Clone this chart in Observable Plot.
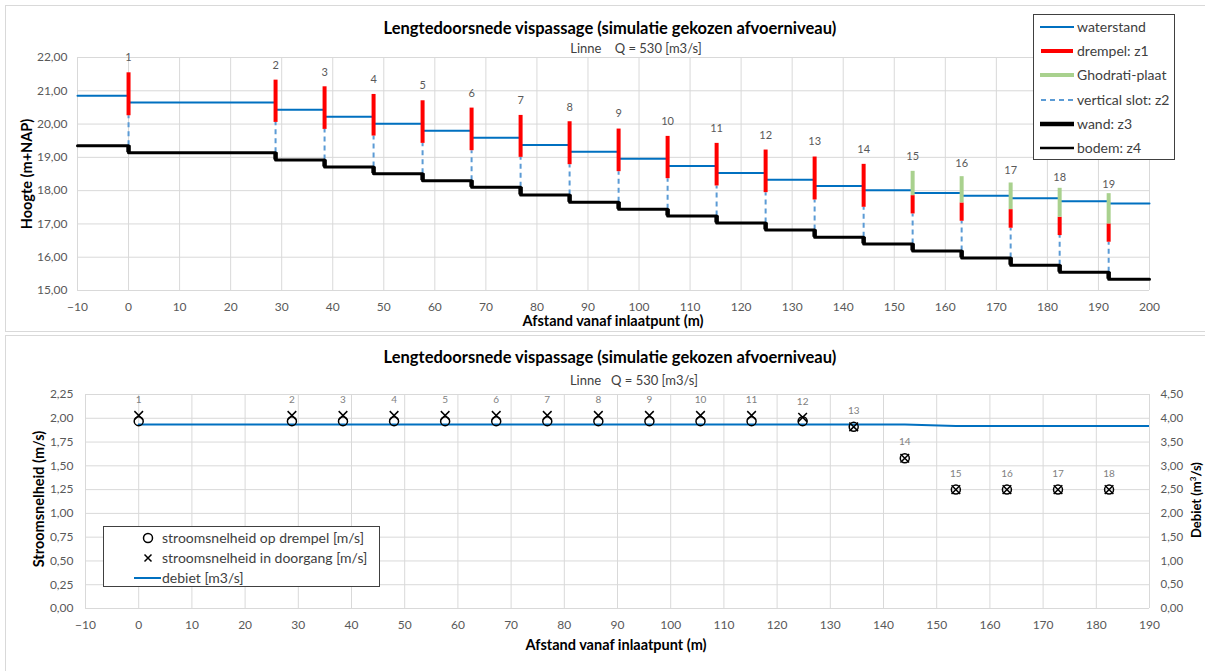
<!DOCTYPE html>
<html><head><meta charset="utf-8">
<script src="https://cdn.jsdelivr.net/npm/d3@7"></script>
<script src="https://cdn.jsdelivr.net/npm/@observablehq/plot@0.6"></script>
<style>
body{margin:0;background:#fff;font-family:Lato,"Open Sans",sans-serif;}
#root{position:relative;width:1205px;height:671px;overflow:hidden;background:#fff;}
.panel{position:absolute;border:1px solid #d9d9d9;box-sizing:border-box;}
.abs{position:absolute;white-space:nowrap;transform:translate(-50%,-50%);line-height:1;}
.rot{transform:translate(-50%,-50%) rotate(-90deg);}
.title{font-weight:bold;font-size:16.5px;color:#000;}
.sub{font-size:13px;color:#404040;}
.axt{font-weight:bold;font-size:14.5px;color:#000;}
.legend{position:absolute;border:1px solid #404040;background:#fff;box-sizing:border-box;}
.li{position:absolute;left:0;display:flex;align-items:center;font-size:14px;color:#404040;white-space:nowrap;line-height:1;}
.plotwrap{position:absolute;left:0;}
</style>
</head><body>
<div id="root">
  <div class="panel" style="left:5px;top:5px;width:1220px;height:327px;"></div>
  <div class="panel" style="left:5px;top:335px;width:1220px;height:400px;"></div>
  <div id="top" class="plotwrap" style="top:0;"></div>
  <div id="bot" class="plotwrap" style="top:335px;"></div>
</div>
<script>
// ---------- data ----------
const wallNr = [1,2,3,4,5,6,7,8,9,10,11,12,13,14,15,16,17,18,19];
const wallX = [0,28.8,38.4,48,57.6,67.2,76.8,86.4,96,105.6,115.2,124.8,134.4,144,153.6,163.2,172.8,182.4,192];
const drempelTop    = [21.54,21.32,21.12,20.89,20.70,20.48,20.26,20.07,19.85,19.63,19.42,19.22,19.01,18.79,17.85,17.63,17.43,17.20,17.00];
const drempelBottom = [20.25,20.05,19.84,19.64,19.42,19.20,19.00,18.78,18.57,18.36,18.14,17.94,17.72,17.50,17.30,17.08,16.87,16.65,16.45];
const plaatTop = [null,null,null,null,null,null,null,null,null,null,null,null,null,null,18.58,18.42,18.23,18.07,17.91];
const labelY = [21.99,21.76,21.55,21.34,21.15,20.93,20.72,20.51,20.31,20.09,19.87,19.66,19.47,19.25,19.03,18.83,18.61,18.40,18.20];
const segStart = [-10,0,28.8,38.4,48,57.6,67.2,76.8,86.4,96,105.6,115.2,124.8,134.4,144,153.6,163.2,172.8,182.4,192];
const waterstand = [20.85,20.65,20.43,20.22,20.01,19.80,19.59,19.37,19.17,18.96,18.74,18.53,18.33,18.14,18.01,17.93,17.85,17.77,17.68,17.61];
const bodem = [19.35,19.14,18.92,18.71,18.51,18.30,18.10,17.87,17.65,17.44,17.24,17.03,16.82,16.60,16.40,16.19,15.98,15.76,15.55,15.34];

const snelheidDrempel  = [1.97,1.97,1.97,1.97,1.97,1.97,1.97,1.97,1.97,1.97,1.97,1.97,1.91,1.58,1.25,1.25,1.25,1.25,1.25];
const snelheidDoorgang = [2.03,2.03,2.03,2.03,2.03,2.03,2.03,2.03,2.03,2.03,2.03,2.01,1.91,1.58,1.25,1.25,1.25,1.25,1.25];
const debiet = [3.87,3.87,3.87,3.87,3.87,3.87,3.87,3.87,3.87,3.87,3.87,3.87,3.87,3.87,3.84,3.84,3.84,3.84,3.84];

const topXDomain = [-10, 200], topYDomain = [15, 22];
const botXDomain = [-10, 190], speedMax = 2.25, debietMax = 4.50;
const topXTicks = d3.range(-10, 201, 10);
const topYTicks = d3.range(15, 22.01, 1);
const botXTicks = d3.range(-10, 191, 10);
const botYTicks = d3.range(0, 2.251, 0.25);

const FONT = "Lato, 'Open Sans', sans-serif";
const fmt = d => d.toFixed(2).replace(".", ",");
const GRID = "#d9d9d9", TICKC = "#595959";
const BLUE = "#0070C0", LBLUE = "#5B9BD5", RED = "#FF0000", GREEN = "#A9D18E";

// ---------- top chart ----------
const walls = wallNr.map((n, i) => ({n, x: wallX[i], top: drempelTop[i], bot: drempelBottom[i],
  plaat: plaatTop[i], ly: labelY[i], bodemBefore: bodem[i], bodemAfter: bodem[i + 1]}));
const segs = segStart.map((x, i) => ({x, w: waterstand[i], b: bodem[i]}));
segs.push({x: topXDomain[1], w: waterstand[waterstand.length - 1], b: bodem[bodem.length - 1]});

const topPlot = Plot.plot({
  width: 1205, height: 331,
  marginLeft: 77, marginRight: 56, marginTop: 57, marginBottom: 41,
  style: {fontFamily: FONT, background: "transparent", overflow: "visible"},
  x: {domain: topXDomain}, y: {domain: topYDomain},
  marks: [
    Plot.gridX(topXTicks, {stroke: GRID, strokeOpacity: 1}),
    Plot.gridY(topYTicks, {stroke: GRID, strokeOpacity: 1}),
    Plot.axisX({ticks: topXTicks, tickSize: 0, tickPadding: 12, fontSize: 12, fill: TICKC, label: null}),
    Plot.axisY({ticks: topYTicks, tickSize: 0, tickPadding: 10, fontSize: 12, fill: TICKC, label: null, tickFormat: fmt}),
    Plot.line(segs, {x: "x", y: "w", curve: "step-after", stroke: BLUE, strokeWidth: 2}),
    Plot.ruleX(walls, {x: "x", y1: "bodemBefore", y2: "bot", stroke: LBLUE, strokeWidth: 2, strokeDasharray: "5,4"}),
    Plot.ruleX(walls, {x: "x", y1: "bot", y2: "top", stroke: RED, strokeWidth: 4}),
    Plot.ruleX(walls.filter(d => d.plaat != null), {x: "x", y1: "top", y2: "plaat", stroke: GREEN, strokeWidth: 4}),
    Plot.line(segs, {x: "x", y: "b", curve: "step-after", stroke: "#000", strokeWidth: 3}),
    Plot.ruleX(walls, {x: "x", y1: "bodemBefore", y2: "bodemAfter", stroke: "#000", strokeWidth: 4.5}),
    Plot.text(walls, {x: "x", y: "ly", text: d => String(d.n), fontSize: 11, fill: "#595959"})
  ]
});
document.getElementById("top").appendChild(topPlot);

// ---------- bottom chart ----------
const pts = wallNr.map((n, i) => ({n, x: wallX[i], vd: snelheidDrempel[i], vg: snelheidDoorgang[i], q: debiet[i]}));
const visPts = pts.filter(d => d.x <= botXDomain[1]);   // wall 19 lies beyond the axis end
const qToSpeed = speedMax / debietMax;

const botPlot = Plot.plot({
  width: 1205, height: 336,
  marginLeft: 85, marginRight: 56, marginTop: 59, marginBottom: 63,
  style: {fontFamily: FONT, background: "transparent", overflow: "visible"},
  x: {domain: botXDomain}, y: {domain: [0, speedMax]},
  marks: [
    Plot.gridX(botXTicks, {stroke: GRID, strokeOpacity: 1}),
    Plot.gridY(botYTicks, {stroke: GRID, strokeOpacity: 1}),
    Plot.axisX({ticks: botXTicks, tickSize: 0, tickPadding: 12, fontSize: 12, fill: TICKC, label: null}),
    Plot.axisY({ticks: botYTicks, tickSize: 0, tickPadding: 12, fontSize: 12, fill: TICKC, label: null, tickFormat: fmt}),
    Plot.axisY({anchor: "right", ticks: botYTicks, tickSize: 0, tickPadding: 11, fontSize: 11.5, fill: TICKC, label: null,
      tickFormat: d => fmt(d / qToSpeed)}),
    Plot.line(pts, {x: "x", y: d => d.q * qToSpeed, stroke: BLUE, strokeWidth: 2, clip: true}),
    Plot.dot(visPts, {x: "x", y: "vd", symbol: "circle", r: 4.5, stroke: "#000", strokeWidth: 1.5, fill: "none"}),
    Plot.dot(visPts, {x: "x", y: "vg", symbol: "times", r: 4, stroke: "#000", strokeWidth: 1.5}),
    Plot.text(visPts, {x: "x", y: "vg", text: d => String(d.n), dy: -16, fontSize: 10, fill: "#7f7f7f"})
  ]
});
document.getElementById("bot").appendChild(botPlot);

// ---------- texts & legends ----------
const root = document.getElementById("root");
function txt(html, cls, x, y, extra) {
  const d = document.createElement("div");
  d.className = "abs " + cls; d.innerHTML = html;
  d.style.left = x + "px"; d.style.top = y + "px";
  if (extra) Object.assign(d.style, extra);
  root.appendChild(d);
}
txt("Lengtedoorsnede vispassage (simulatie gekozen afvoerniveau)", "title", 610, 28);
txt("Linne&nbsp;&nbsp;&nbsp;&nbsp;Q = 530 [m3/s]", "sub", 636, 48);
txt("Hoogte (m+NAP)", "axt rot", 27, 174);
txt("Afstand vanaf inlaatpunt (m)", "axt", 613, 321);

txt("Lengtedoorsnede vispassage (simulatie gekozen afvoerniveau)", "title", 610, 357);
txt("Linne&nbsp;&nbsp;&nbsp;Q = 530 [m3/s]", "sub", 634, 380);
txt("Stroomsnelheid (m/s)", "axt rot", 39, 499);
txt("Debiet (m<sup style='font-size:8px;line-height:0;vertical-align:5px'>3</sup>/s)", "axt rot", 1196, 500, {fontSize: "13px"});
txt("Afstand vanaf inlaatpunt (m)", "axt", 616, 645);

function legend(left, top, w, h, items) {
  const box = document.createElement("div");
  box.className = "legend";
  Object.assign(box.style, {left: left + "px", top: top + "px", width: w + "px", height: h + "px"});
  items.forEach(it => {
    const row = document.createElement("div");
    row.className = "li";
    row.style.top = (it.y - top - 8) + "px";
    row.style.left = (it.sx - left - 1) + "px";
    row.style.height = "16px";
    row.innerHTML = `<svg width="${it.sw}" height="16" style="margin-right:${it.gap}px">${it.svg}</svg><span>${it.label}</span>`;
    box.appendChild(row);
  });
  root.appendChild(box);
}
legend(1033, 14, 142, 146, [
  {y: 26, sx: 1040, sw: 34, gap: 3, label: "waterstand", svg: `<line x1="0" x2="34" y1="8" y2="8" stroke="${BLUE}" stroke-width="2"/>`},
  {y: 50, sx: 1040, sw: 34, gap: 3, label: "drempel: z1", svg: `<line x1="1" x2="33" y1="8" y2="8" stroke="${RED}" stroke-width="4"/>`},
  {y: 74, sx: 1040, sw: 34, gap: 3, label: "Ghodrati-plaat", svg: `<line x1="0" x2="34" y1="8" y2="8" stroke="${GREEN}" stroke-width="4"/>`},
  {y: 99, sx: 1040, sw: 34, gap: 3, label: "vertical slot: z2", svg: `<line x1="1" x2="34" y1="8" y2="8" stroke="${LBLUE}" stroke-width="2" stroke-dasharray="5,4"/>`},
  {y: 123, sx: 1040, sw: 34, gap: 3, label: "wand: z3", svg: `<line x1="0" x2="34" y1="8" y2="8" stroke="#000" stroke-width="4.5"/>`},
  {y: 147, sx: 1040, sw: 34, gap: 3, label: "bodem: z4", svg: `<line x1="0" x2="34" y1="8" y2="8" stroke="#000" stroke-width="2.5"/>`}
]);
legend(103, 526, 277, 61, [
  {y: 537, sx: 134, sw: 27, gap: 1, label: "stroomsnelheid op drempel [m/s]", svg: `<circle cx="14" cy="8" r="4.5" fill="none" stroke="#000" stroke-width="1.5"/>`},
  {y: 557, sx: 134, sw: 27, gap: 1, label: "stroomsnelheid in doorgang [m/s]", svg: `<path d="M10.5,4.5L17.5,11.5M17.5,4.5L10.5,11.5" stroke="#000" stroke-width="1.5"/>`},
  {y: 577, sx: 134, sw: 27, gap: 1, label: "debiet [m3/s]", svg: `<line x1="0" x2="27" y1="8" y2="8" stroke="${BLUE}" stroke-width="2"/>`}
]);
</script>
</body></html>
